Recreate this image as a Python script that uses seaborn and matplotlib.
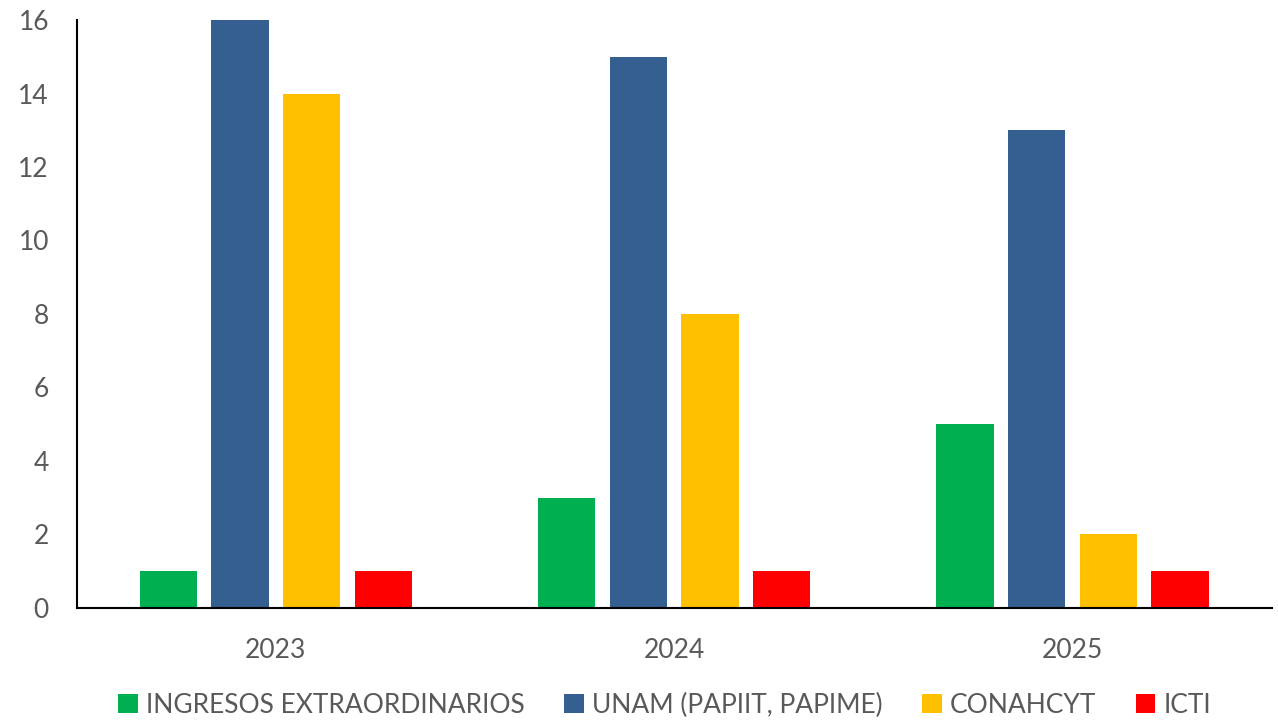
import matplotlib
matplotlib.use("Agg")
import matplotlib.pyplot as plt
import seaborn as sns
import pandas as pd

years = ["2023", "2024", "2025"]
series = ["INGRESOS EXTRAORDINARIOS", "UNAM (PAPIIT, PAPIME)", "CONAHCYT", "ICTI"]
ingresos = [1, 3, 5]
unam = [16, 15, 13]
conahcyt = [14, 8, 2]
icti = [1, 1, 1]
colors = ["#00B050", "#365F91", "#FFC000", "#FF0000"]

rows = []
for s, vals in zip(series, [ingresos, unam, conahcyt, icti]):
    for y, v in zip(years, vals):
        rows.append({"Año": y, "Fuente": s, "Valor": v})
df = pd.DataFrame(rows)

sns.set_theme(style="white")
plt.rcParams['font.family'] = ['Lato', 'DejaVu Sans']

fig = plt.figure(figsize=(12.78, 7.2), dpi=100)
ax = fig.add_axes([0.060, 0.156, 0.935, 0.816])
sns.barplot(data=df, x="Año", y="Valor", hue="Fuente", order=years, hue_order=series,
            palette=colors, width=0.72, gap=0.2, saturation=1, ax=ax, legend=True,
            linewidth=0)

ax.set_ylim(0, 16)
ax.set_xlim(-0.5, 2.5)
ax.set_yticks(range(0, 17, 2))
ax.set_xlabel("")
ax.set_ylabel("")
for sp in ["top", "right"]:
    ax.spines[sp].set_visible(False)
for sp in ["left", "bottom"]:
    ax.spines[sp].set_color("black")
    ax.spines[sp].set_linewidth(1.5)
ax.tick_params(axis="both", length=0, labelsize=19, labelcolor="#595959")
ax.tick_params(axis="x", pad=22)
ax.tick_params(axis="y", pad=20)

handles, labels = ax.get_legend_handles_labels()
ax.legend_.remove()
fig.legend(handles, labels, loc="lower center", bbox_to_anchor=(0.52, -0.03), ncol=4,
           frameon=False, fontsize=19, labelcolor="#595959", handlelength=0.75,
           handleheight=0.75, handletextpad=0.3, columnspacing=1.5)

fig.savefig("out.png", dpi=100)
